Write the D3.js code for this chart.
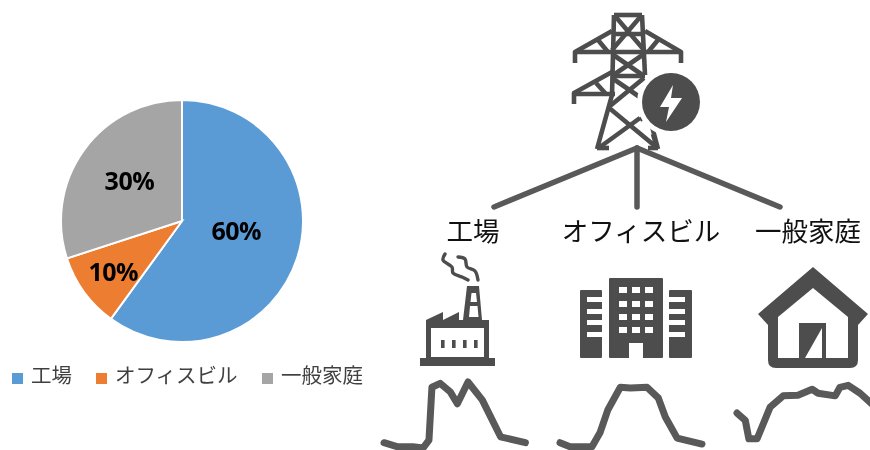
<!DOCTYPE html>
<html>
<head>
<meta charset="utf-8">
<title>電力需要</title>
<script src="https://d3js.org/d3.v7.min.js"></script>
<style>
html, body { margin: 0; padding: 0; background: #fff; }
svg { display: block; filter: blur(0.5px); }
text { font-family: "Noto Sans CJK JP", sans-serif; }
.pct { font-family: "Open Sans", sans-serif; font-weight: 700; font-size: 25px; fill: #000; text-anchor: middle; dominant-baseline: central; letter-spacing: -0.5px; }
.leg { font-size: 20.5px; fill: #404040; }
.head { font-size: 26.5px; fill: #111; text-anchor: middle; }
.icon { fill: #4d4d4d; }
.hole { fill: #fff; }
.tower line, .tower path { stroke: #4d4d4d; stroke-width: 4.6; fill: none; stroke-linecap: butt; stroke-linejoin: round; }
</style>
</head>
<body>
<script>
var categories = ["工場", "オフィスビル", "一般家庭"];
var shares = [60, 10, 30];
var colors = ["#5B9BD5", "#ED7D31", "#A5A5A5"];

// daily load shape: hour of day / load 0-100
var factoryHours = [0, 2.2, 4.9, 6.6, 7.6, 8.1, 9.5, 11.2, 12.4, 14.2, 16.6, 19.7, 23.9];
var factoryLoad  = [8, 2, 2, 0, 12, 92, 98, 85, 67, 100, 73, 17, 8];
var officeHours  = [0, 1.7, 5.4, 6.8, 8.1, 10.2, 11.9, 14.7, 16.6, 17.8, 19.8, 24];
var officeLoad   = [8, 2, 2, 24, 58, 92, 91, 92, 76, 47, 15, 6];
var homeHours    = [0, 1.4, 2, 3.4, 5.6, 7.8, 10.3, 12.7, 13.7, 16.6, 17.4, 18.8, 20.8, 24];
var homeLoad     = [53, 42, 14, 14, 62, 79, 80, 89, 83, 79, 92, 95, 83, 57];

var width = 870, height = 450;
var svg = d3.select("body").append("svg").attr("width", width).attr("height", height);

// pie
var radius = 121;
var pieG = svg.append("g").attr("transform", "translate(182,221)");
var arcs = d3.pie().sort(null)(shares);
var arc = d3.arc().innerRadius(0).outerRadius(radius);
pieG.selectAll("path").data(arcs).enter().append("path")
  .attr("d", arc)
  .attr("fill", function(d, i) { return colors[i]; })
  .attr("stroke", "#fff")
  .attr("stroke-width", 2);

var labelArc = [57, 85, 65];
var labelNudge = [-9, 0, -3];
pieG.selectAll("text").data(arcs).enter().append("text")
  .attr("class", "pct")
  .attr("transform", function(d, i) {
    var c = d3.arc().innerRadius(labelArc[i]).outerRadius(labelArc[i]).centroid(d);
    return "translate(" + c[0] + "," + (c[1] + labelNudge[i]) + ")";
  })
  .text(function(d) { return d.data + "%"; });

// legend
var legendX = [12, 96, 262];
var legend = svg.selectAll(".legendItem").data(categories).enter().append("g")
  .attr("class", "legendItem")
  .attr("transform", function(d, i) { return "translate(" + legendX[i] + ",373)"; });
legend.append("rect").attr("width", 11).attr("height", 11)
  .attr("fill", function(d, i) { return colors[i]; });
legend.append("text").attr("class", "leg").attr("x", 19).attr("y", 10)
  .text(function(d) { return d; });

// tower
var tower = svg.append("g").attr("class", "tower");
var towerPaths = [
  "M614,15H642",
  "M614,15L612,95L597,149",
  "M642,15L645,75",
  "M645,100L658,149",
  "M612,31L575,52V63",
  "M645,31L681,52V63",
  "M575,52H681",
  "M612,72L574,93V104",
  "M574,94H615",
  "M612,34H645",
  "M612,76H645",
  "M615,16L644,50",
  "M641,16L612,50",
  "M612,54L644,76",
  "M644,54L612,76",
  "M612,78L644,100",
  "M644,78L610,106",
  "M608,107L655,146",
  "M640,118L600,147",
  "M597,148H609",
  "M648,148H658",
  "M598,40L608,52",
  "M658,40L648,52",
  "M596,83L606,94"
];
tower.selectAll("path").data(towerPaths).enter().append("path").attr("d", function(d) { return d; });
svg.append("circle").attr("class", "hole").attr("cx", 671).attr("cy", 102).attr("r", 34);
svg.append("circle").attr("class", "icon").attr("cx", 671).attr("cy", 102).attr("r", 29);
svg.append("path").attr("class", "hole").attr("d", "M673,85L660,107H669L666,122L682,98H671Z");
// the two leg stubs the halo cuts off
tower.append("path").attr("d", "M649,113L640,120");
tower.append("path").attr("d", "M653,134L657,148");

// connectors
var connectorEnds = [494, 637, 780];
svg.selectAll(".conn").data(connectorEnds).enter().append("line")
  .attr("class", "conn")
  .attr("x1", 637).attr("y1", 148)
  .attr("x2", function(d) { return d; }).attr("y2", 207)
  .attr("stroke", "#595959").attr("stroke-width", 5.5).attr("stroke-linecap", "round");

// column heads
var headX = [473, 641, 808];
svg.selectAll(".head").data(categories).enter().append("text")
  .attr("class", "head")
  .attr("x", function(d, i) { return headX[i]; })
  .attr("y", 241)
  .text(function(d) { return d; });

// factory icon
var factory = svg.append("g");
factory.append("rect").attr("class", "icon").attr("x", 420).attr("y", 358).attr("width", 75).attr("height", 8);
factory.append("path").attr("class", "icon")
  .attr("d", "M426,358V320L443,312V320L459,312V320H463L467,286H479L482,320H489V358Z");
factory.append("rect").attr("class", "hole").attr("x", 431).attr("y", 328).attr("width", 53).attr("height", 29);
factory.append("path").attr("class", "hole").attr("d", "M471.5,293H476L477,302H470.5ZM470,306H477.5L478.5,317H469Z");
factory.selectAll(".dot").data([441, 452, 463, 474]).enter().append("rect")
  .attr("class", "icon")
  .attr("x", function(d) { return d; }).attr("y", 340).attr("width", 3.6).attr("height", 8);
[[[445, 254], [443, 260], [452, 267], [453, 273], [462, 277], [468, 280]],
 [[458, 257], [465, 259], [467, 267], [475, 271], [478, 280]]].forEach(function(s) {
  factory.append("path")
    .attr("d", d3.line().curve(d3.curveCatmullRom)(s))
    .attr("fill", "none").attr("stroke", "#4d4d4d").attr("stroke-width", 3.4).attr("stroke-linecap", "round");
});

// office icon
var office = svg.append("g");
[[580, 22, 587], [669, 23, 669]].forEach(function(w) {
  office.append("rect").attr("class", "icon").attr("x", w[0]).attr("y", 290).attr("width", w[1]).attr("height", 68).attr("rx", 1);
  [297, 309, 320, 332].forEach(function(y) {
    office.append("rect").attr("class", "hole").attr("x", w[2]).attr("y", y).attr("width", 16).attr("height", 5);
  });
});
office.append("rect").attr("class", "icon").attr("x", 609).attr("y", 278).attr("width", 54).attr("height", 80).attr("rx", 1);
[619, 632, 645].forEach(function(x) {
  [287, 301, 314, 327].forEach(function(y) {
    office.append("rect").attr("class", "hole").attr("x", x).attr("y", y).attr("width", 8).attr("height", 6);
  });
});
office.append("rect").attr("class", "hole").attr("x", 629).attr("y", 343).attr("width", 14).attr("height", 15);

// house icon
var house = svg.append("g");
house.append("path").attr("class", "icon")
  .attr("d", "M758,314L813,267L868,314L858,325V360Q858,368 850,368H776Q768,368 768,360V325Z");
house.append("path").attr("class", "hole").attr("d", "M778,317L813,288L848,317V358H778Z");
house.append("rect").attr("class", "icon").attr("x", 799).attr("y", 323).attr("width", 27).attr("height", 35);
house.append("path").attr("class", "hole").attr("d", "M822,328V358H805Z");

// load curves
var curves = [
  { hours: factoryHours, load: factoryLoad, left: 384, w: 142 },
  { hours: officeHours, load: officeLoad, left: 560, w: 142 },
  { hours: homeHours, load: homeLoad, left: 737, w: 142 }
];
var y = d3.scaleLinear().domain([0, 100]).range([448, 382]);
curves.forEach(function(c) {
  var x = d3.scaleLinear().domain([0, 24]).range([c.left, c.left + c.w]);
  var line = d3.line()
    .x(function(h) { return x(h); })
    .y(function(h, i) { return y(c.load[i]); });
  svg.append("path")
    .attr("d", line(c.hours))
    .attr("fill", "none")
    .attr("stroke", "#595959")
    .attr("stroke-width", 7)
    .attr("stroke-linecap", "round")
    .attr("stroke-linejoin", "round");
});
</script>
</body>
</html>
